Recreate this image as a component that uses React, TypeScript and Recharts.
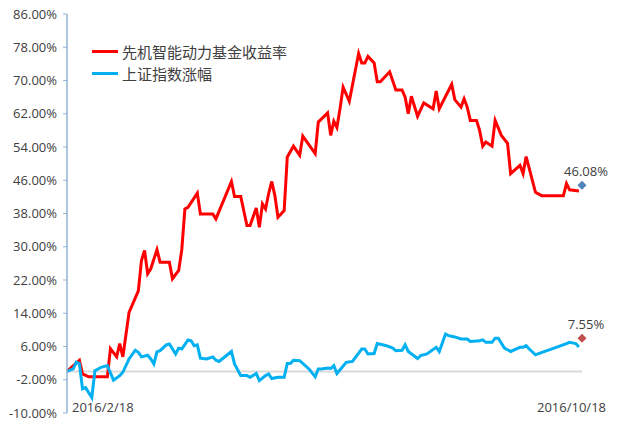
import {
  ComposedChart,
  Line,
  Scatter,
  XAxis,
  YAxis,
  ReferenceLine,
} from "recharts";

// trading-day index since 2016/2/18, and cumulative return (%)
const fundDays = [
  0, 4, 5, 7, 13, 14, 16, 17, 18, 20, 23, 24, 25, 26, 27, 29, 30, 33, 34, 36,
  37, 38, 39, 42, 43, 47, 48, 53, 54, 56, 58, 59, 61, 62, 63, 64, 65, 66, 67,
  68, 70, 71, 73, 75, 76, 80, 81, 84, 85, 86, 87, 88, 89, 91, 94, 95, 96, 97,
  99, 100, 101, 104, 106, 108, 109, 110, 111, 113, 115, 118, 119, 120, 124, 125,
  127, 128, 129, 130, 132, 133, 134, 135, 137, 138, 140, 142, 143, 146, 147,
  148, 151, 153, 160, 161, 162, 165,
];
const fundReturns = [
  0, 2.7, -0.6, -1.3, -1.3, 5.5, 3.5, 6.7, 3.5, 14.2, 19.4, 26.7, 29.1, 23.5,
  24.7, 29.3, 26.3, 26.3, 22.3, 24.3, 29.3, 39.1, 39.5, 42.9, 37.9, 37.9, 36.7,
  45.7, 42.1, 42.1, 35.1, 35.1, 39.3, 34.7, 40.3, 39.1, 42.8, 45.7, 42.3, 37.1,
  38.7, 51.6, 54.2, 52.0, 56.6, 52.4, 60.0, 62.2, 56.8, 60.2, 58.7, 63.2, 68.4,
  65.0, 76.5, 74.2, 74.2, 75.8, 74.2, 69.7, 69.7, 72.1, 67.7, 67.7, 66.0, 62.0,
  66.2, 61.4, 64.6, 63.2, 67.5, 63.2, 69.1, 65.4, 63.6, 65.6, 63.6, 60.4, 60.4,
  58.0, 54.2, 55.2, 54.2, 60.4, 56.8, 54.9, 47.6, 49.6, 47.6, 51.7, 43.1, 42.3,
  42.3, 45.2, 43.7, 43.4,
];

const indexDays = [
  0, 2, 3, 4, 5, 6, 8, 9, 11, 13, 15, 17, 18, 20, 22, 23, 24, 26, 27, 28, 29,
  30, 32, 33, 35, 36, 37, 39, 40, 41, 42, 43, 45, 47, 48, 49, 53, 54, 56, 58,
  59, 61, 62, 64, 65, 66, 68, 70, 71, 72, 73, 75, 78, 80, 81, 82, 84, 85, 86,
  87, 90, 92, 95, 96, 97, 99, 100, 103, 105, 106, 108, 109, 110, 113, 114, 116,
  119, 120, 122, 123, 125, 127, 129, 130, 133, 134, 135, 137, 138, 139, 141,
  143, 146, 147, 148, 149, 151, 152, 157, 161, 162, 164, 165,
];
const indexReturns = [
  0, 0.6, 2.2, 1.9, -4.2, -3.9, -6.3, 0.2, 1.0, 1.4, -2.1, -1.0, -0.2, 3.0, 5.1,
  4.6, 3.5, 3.9, 3.0, 1.8, 4.7, 5.0, 6.4, 6.6, 4.2, 5.6, 5.4, 7.6, 7.4, 6.2,
  6.4, 3.2, 3.0, 3.5, 2.7, 2.4, 4.8, 1.8, -1.0, -1.0, -1.4, -0.5, -2.2, -1.0,
  -0.6, -1.7, -1.4, -1.4, 1.9, 1.9, 2.7, 2.6, 0.6, -1.3, 0.6, 0.6, 0.8, 0.7,
  1.4, -0.5, 2.2, 2.4, 5.4, 5.4, 4.2, 4.3, 6.7, 6.2, 5.6, 5.0, 5.1, 6.4, 4.8,
  3.1, 3.8, 4.2, 5.8, 4.8, 9.0, 8.6, 8.3, 7.8, 7.8, 7.2, 7.4, 7.6, 7.0, 7.0,
  8.0, 8.0, 5.6, 4.8, 5.8, 5.8, 6.2, 5.4, 4.0, 4.3, 5.6, 6.7, 7.0, 6.7, 5.9,
];

const seriesNames = ["先机智能动力基金收益率", "上证指数涨幅"];
const seriesColors = ["#FF0000", "#00B0F0"];

// end-point markers
const endDays = [166, 166];
const endValues = [44.8, 8.0];
const endLabels = ["46.08%", "7.55%"];
const endColors = ["#4F81BD", "#C0504D"];

const dateLabels = ["2016/2/18", "2016/10/18"];
const xTicks = [0, 166];
const yTicks = [-10, -2, 6, 14, 22, 30, 38, 46, 54, 62, 70, 78, 86];

const fundData = fundDays.map((d, i) => ({ d, v: fundReturns[i] }));
const indexData = indexDays.map((d, i) => ({ d, v: indexReturns[i] }));
const endData = endDays.map((d, i) => ({
  d,
  v: endValues[i],
  label: endLabels[i],
  color: endColors[i],
}));

const textColor = "#404040";
const font = "'Open Sans', 'DejaVu Sans', sans-serif";

function DateTick({ x, y, payload }: any) {
  const first = payload.value === xTicks[0];
  return (
    <text
      x={first ? x + 5 : x + 24}
      y={y - 14}
      textAnchor={first ? "start" : "end"}
      dominantBaseline="central"
      fill={textColor}
      fontSize={13}
      fontFamily={font}
    >
      {first ? dateLabels[0] : dateLabels[1]}
    </text>
  );
}

function EndMarker({ cx, cy, payload }: any) {
  const r = 4.5;
  return (
    <g>
      <polygon
        points={`${cx},${cy - r} ${cx + r},${cy} ${cx},${cy + r} ${cx - r},${cy}`}
        fill={payload.color}
      />
      <text
        x={cx + 4}
        y={cy - 14}
        textAnchor="middle"
        dominantBaseline="central"
        fill={textColor}
        fontSize={13}
        fontFamily={font}
      >
        {payload.label}
      </text>
    </g>
  );
}

function LegendBox() {
  return (
    <div
      style={{
        position: "absolute",
        left: 92,
        top: 40,
        fontFamily: "'Noto Sans CJK SC', sans-serif",
        fontSize: 15,
        color: textColor,
      }}
    >
      {seriesNames.map((name, i) => (
        <div key={name} style={{ display: "flex", alignItems: "center", height: 22 }}>
          <span
            style={{
              display: "inline-block",
              width: 26,
              height: 3,
              background: seriesColors[i],
              marginRight: 4,
            }}
          />
          {name}
        </div>
      ))}
    </div>
  );
}

export default function App() {
  return (
    <div style={{ position: "absolute", left: 0, top: 0, width: 640, height: 438, background: "#fff" }}>
      <ComposedChart
        width={640}
        height={438}
        margin={{ top: 14, right: 58, bottom: 0, left: 7 }}
      >
        <XAxis
          type="number"
          dataKey="d"
          domain={[0, 166]}
          ticks={xTicks}
          axisLine={false}
          tickLine={false}
          height={25}
          tick={<DateTick />}
          allowDuplicatedCategory={false}
        />
        <YAxis
          type="number"
          domain={[-10, 86]}
          ticks={yTicks}
          width={60}
          axisLine={{ stroke: "#95B3D7", strokeWidth: 1.5 }}
          tickLine={{ stroke: "#95B3D7" }}
          tickSize={4}
          tickMargin={6}
          tick={{ fill: textColor, fontSize: 13, fontFamily: font }}
          tickFormatter={(v: number) => `${v.toFixed(2)}%`}
          interval={0}
        />
        <ReferenceLine y={0} stroke="#D9D9D9" strokeWidth={2} />
        <Line
          data={fundData}
          dataKey="v"
          name={seriesNames[0]}
          stroke={seriesColors[0]}
          strokeWidth={3}
          dot={false}
          type="linear"
          isAnimationActive={false}
        />
        <Line
          data={indexData}
          dataKey="v"
          name={seriesNames[1]}
          stroke={seriesColors[1]}
          strokeWidth={3}
          dot={false}
          type="linear"
          isAnimationActive={false}
        />
        <Scatter
          data={endData}
          dataKey="v"
          shape={<EndMarker />}
          isAnimationActive={false}
        />
      </ComposedChart>
      <LegendBox />
    </div>
  );
}
